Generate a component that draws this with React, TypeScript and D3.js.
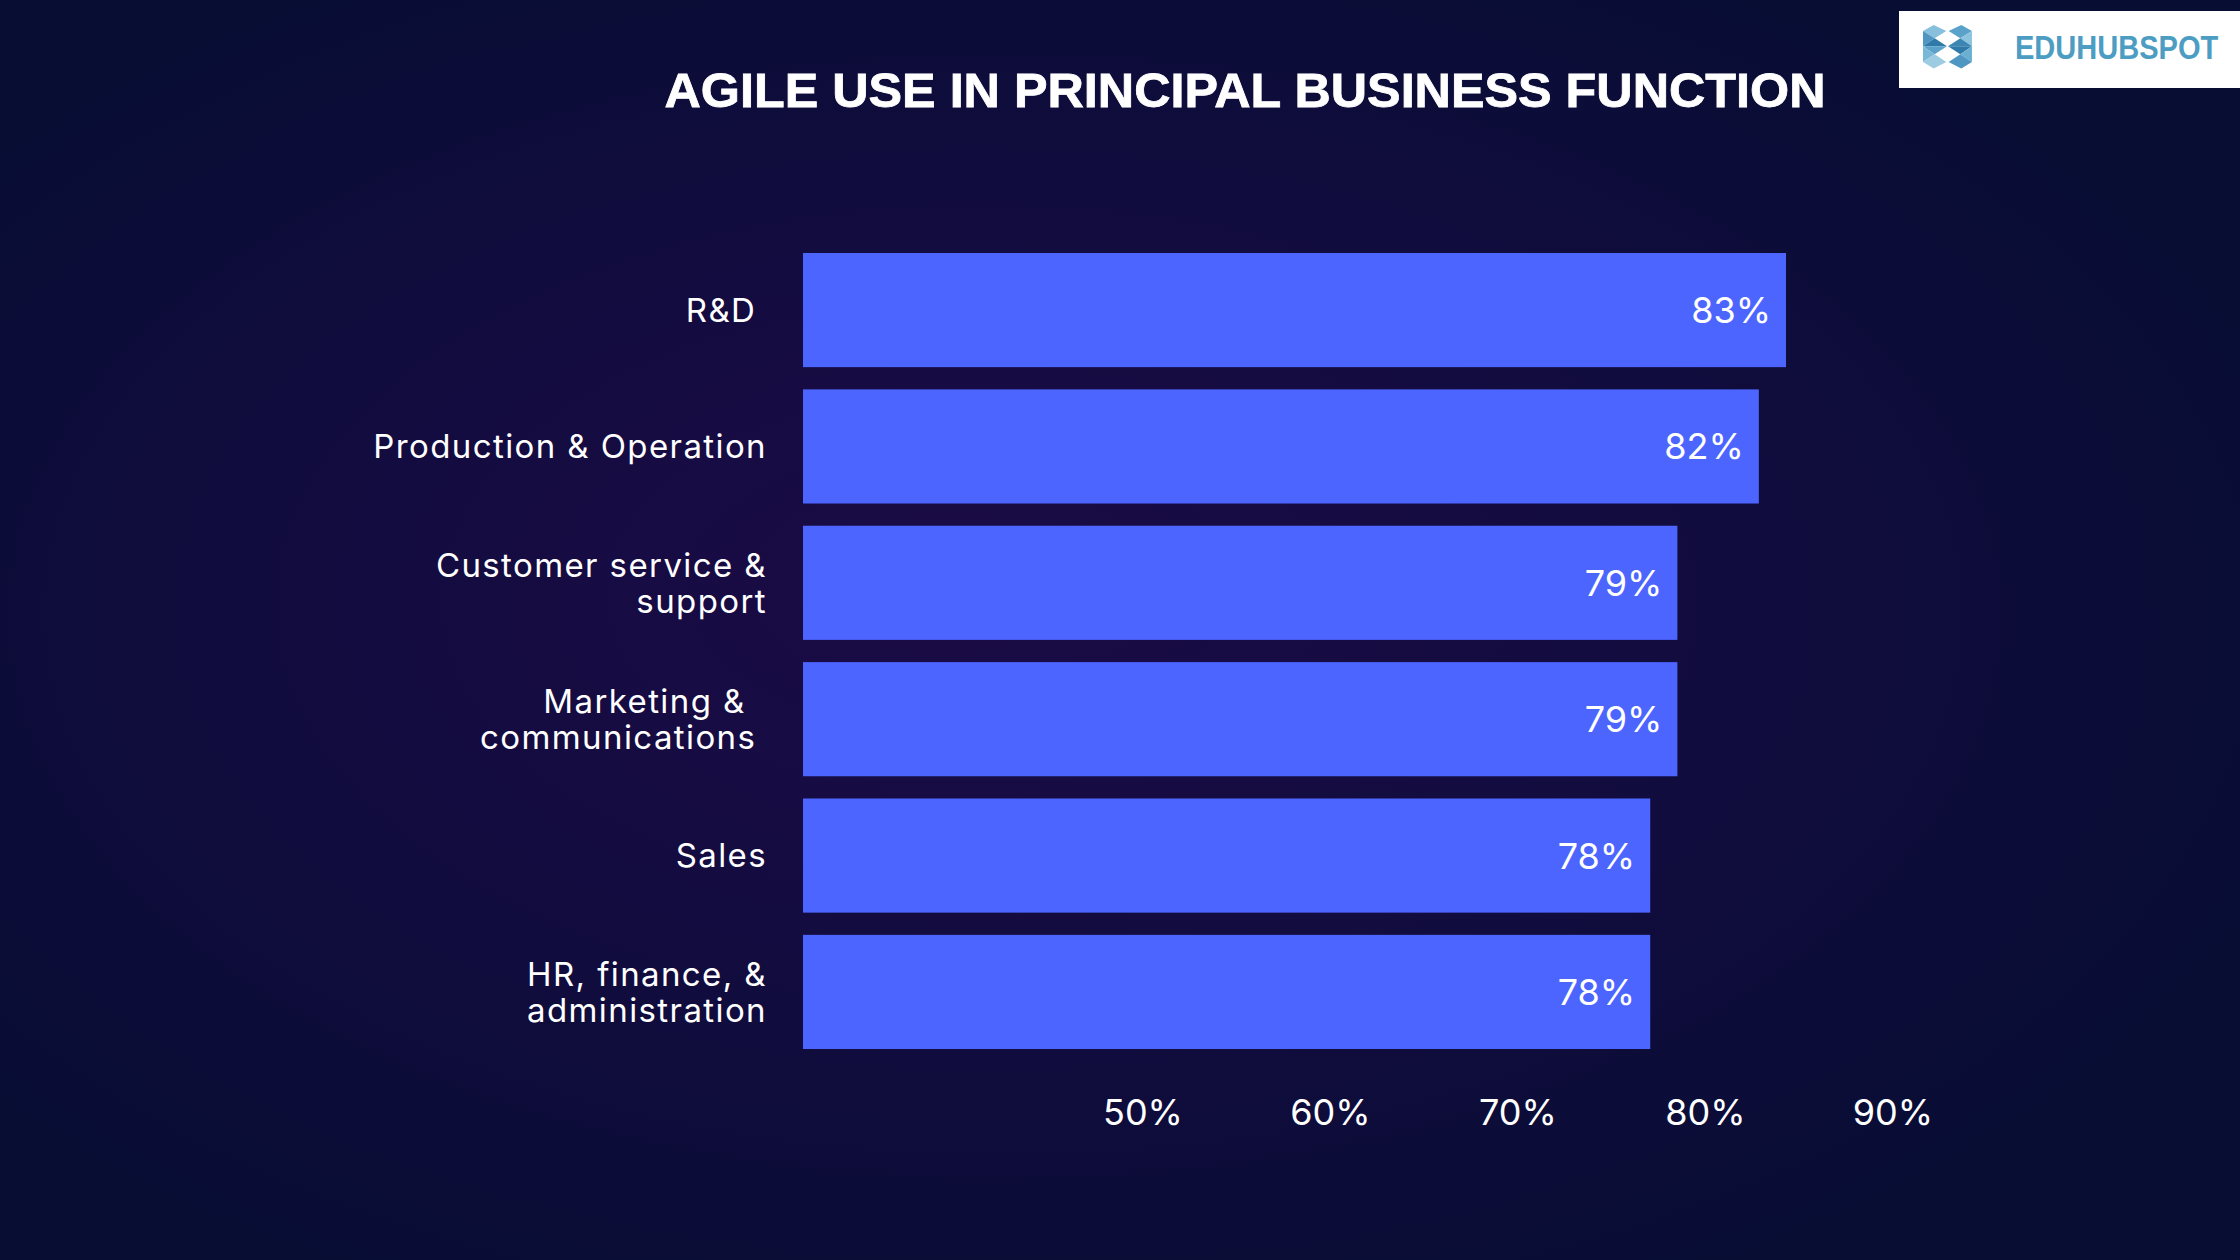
import React from "react";
import * as d3 from "d3";

const categories = [
  "R&D ",
  "Production & Operation",
  "Customer service &\nsupport",
  "Marketing &  \ncommunications ",
  "Sales",
  "HR, finance, &\nadministration",
];
const values = [83, 82, 79, 79, 78, 78];
const tickValues = [50, 60, 70, 80, 90];
const title = "AGILE USE IN PRINCIPAL BUSINESS FUNCTION";
const brand = "EDUHUBSPOT";

const W = 2240;
const H = 1260;
const BAR = "#4c65ff";
const FONT = "Inter, 'Noto Sans', sans-serif";

function Logo() {
  const left: [number, number][][] = [
    [[0, 18], [32, 0], [70, 18], [35, 40]],
    [[0, 18], [35, 40], [0, 64]],
    [[35, 40], [72, 64], [0, 64]],
    [[0, 64], [72, 64], [35, 88]],
    [[0, 64], [35, 88], [0, 111]],
    [[0, 111], [35, 88], [70, 111], [32, 131]],
  ];
  const cols = ["#86c0dc", "#4f97c2", "#2f7aa8", "#5aa2ca", "#7ab8d8", "#9ccbe2"];
  const colsR = ["#5aa2ca", "#8cc3de", "#3b86b3", "#2f7aa8", "#6aaed2", "#4f97c2"];
  const mirror = (p: [number, number][]) => p.map(([x, y]) => [147 - x, y] as [number, number]);
  return (
    <g>
      <rect x={1899} y={11} width={W - 1899} height={77} fill="#ffffff" />
      <g transform="translate(1923,25) scale(0.333)">
        {left.map((p, i) => (
          <polygon key={"l" + i} points={p.map((q) => q.join(",")).join(" ")} fill={cols[i]} />
        ))}
        {left.map((p, i) => (
          <polygon key={"r" + i} points={mirror(p).map((q) => q.join(",")).join(" ")} fill={colsR[i]} />
        ))}
      </g>
      <text
        transform="translate(2015,59) scale(0.88,1)"
        x={0}
        y={0}
        fill="#4d9dc3"
        fontFamily="'Liberation Sans', Arial, sans-serif"
        fontWeight={700}
        fontSize={33}
      >
        {brand}
      </text>
    </g>
  );
}

export default function App() {
  const x = d3.scaleLinear().domain([46.8, 83]).range([803, 1786]);
  const y = d3
    .scaleBand<string>()
    .domain(categories)
    .range([253, 1049])
    .paddingInner(0.163)
    .paddingOuter(0);
  const tx = d3.scaleLinear().domain([50, 90]).range([1143, 1893]);
  const x0 = x.domain()[0];

  return (
    <svg
      width={W}
      height={H}
      viewBox={`0 0 ${W} ${H}`}
      style={{ position: "absolute", left: 0, top: 0, display: "block" }}
    >
      <defs>
        <radialGradient id="bg" cx="46%" cy="50%" r="62%" fx="42%" fy="46%">
          <stop offset="0%" stopColor="#1b0b46" />
          <stop offset="45%" stopColor="#130c40" />
          <stop offset="100%" stopColor="#070d33" />
        </radialGradient>
      </defs>
      <rect x={0} y={0} width={W} height={H} fill="url(#bg)" />

      <text
        x={1245}
        y={107}
        textAnchor="middle"
        fill="#ffffff"
        fontFamily="'Liberation Sans', Arial, sans-serif"
        fontWeight={700}
        fontSize={49}
        stroke="#ffffff"
        strokeWidth={0.8}
        textLength={1161}
        lengthAdjust="spacingAndGlyphs"
      >
        {title}
      </text>

      <Logo />

      {categories.map((c, i) => {
        const y0 = y(c)!;
        const bw = y.bandwidth();
        const cy = y0 + bw / 2;
        const lines = c.split("\n");
        return (
          <g key={c}>
            <rect x={x(x0)} y={y0} width={x(values[i]) - x(x0)} height={bw} fill={BAR} />
            <text
              x={x(values[i]) - 15}
              y={cy}
              dy="0.36em"
              textAnchor="end"
              fill="#ffffff"
              fontFamily={FONT}
              fontSize={36}
            >
              {`${values[i]}%`}
            </text>
            <text
              textAnchor="end"
              fill="#ffffff"
              fontFamily={FONT}
              fontSize={33}
              letterSpacing={1.4}
              style={{ whiteSpace: "pre" }}
            >
              {lines.map((ln, j) => (
                <tspan
                  key={j}
                  x={767}
                  y={cy + (j - (lines.length - 1) / 2) * 36}
                  dy="0.36em"
                >
                  {ln}
                </tspan>
              ))}
            </text>
          </g>
        );
      })}

      {tickValues.map((t) => (
        <text
          key={t}
          x={tx(t)}
          y={1112}
          dy="0.36em"
          textAnchor="middle"
          fill="#ffffff"
          fontFamily={FONT}
          fontSize={36}
        >
          {`${t}%`}
        </text>
      ))}
    </svg>
  );
}
